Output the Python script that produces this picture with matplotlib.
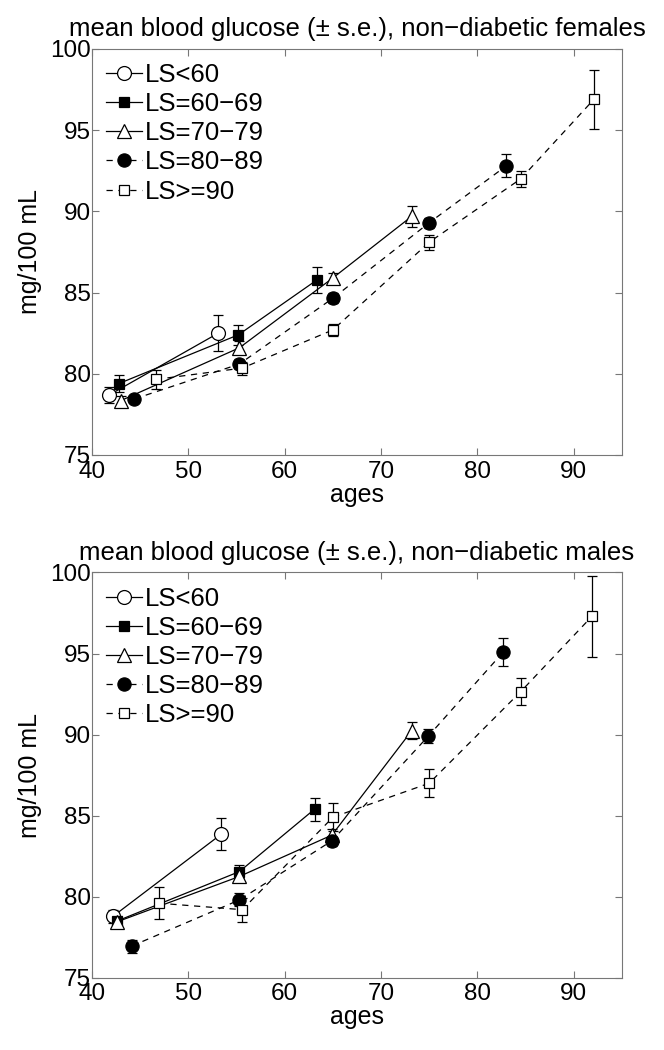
import matplotlib.pyplot as plt

plt.rcParams['font.family'] = ['Liberation Sans', 'DejaVu Sans']

labels = ['LS<60', 'LS=60\u221269', 'LS=70\u221279', 'LS=80\u221289', 'LS>=90']

# females
f_lt60_age = [41.8, 53.1]
f_lt60_mean = [78.7, 82.5]
f_lt60_se = [0.5, 1.1]
f_60_age = [42.8, 55.2, 63.4]
f_60_mean = [79.4, 82.4, 85.8]
f_60_se = [0.5, 0.6, 0.8]
f_70_age = [43.0, 55.3, 65.0, 73.2]
f_70_mean = [78.35, 81.6, 85.9, 89.7]
f_70_se = [0.3, 0.4, 0.3, 0.65]
f_80_age = [44.4, 55.3, 65.0, 75.0, 83.0]
f_80_mean = [78.45, 80.6, 84.65, 89.3, 92.8]
f_80_se = [0.25, 0.3, 0.3, 0.3, 0.7]
f_90_age = [46.6, 55.6, 65.0, 75.0, 84.5, 92.1]
f_90_mean = [79.65, 80.35, 82.7, 88.1, 92.0, 96.9]
f_90_se = [0.6, 0.4, 0.35, 0.45, 0.5, 1.8]

# males
m_lt60_age = [42.2, 53.4]
m_lt60_mean = [78.8, 83.85]
m_lt60_se = [0.4, 1.0]
m_60_age = [42.6, 55.3, 63.1]
m_60_mean = [78.5, 81.55, 85.4]
m_60_se = [0.3, 0.4, 0.7]
m_70_age = [42.6, 55.3, 64.9, 73.2]
m_70_mean = [78.45, 81.25, 83.8, 90.25]
m_70_se = [0.3, 0.35, 0.4, 0.5]
m_80_age = [44.1, 55.3, 64.9, 74.9, 82.7]
m_80_mean = [76.95, 79.8, 83.45, 89.9, 95.1]
m_80_se = [0.4, 0.4, 0.3, 0.45, 0.85]
m_90_age = [46.9, 55.6, 65.0, 75.0, 84.5, 91.9]
m_90_mean = [79.6, 79.2, 84.9, 87.0, 92.65, 97.3]
m_90_se = [1.0, 0.75, 0.85, 0.85, 0.85, 2.5]

styles = [
    dict(marker='o', mfc='white', ms=10, ls='-'),
    dict(marker='s', mfc='black', ms=7.5, ls='-'),
    dict(marker='^', mfc='white', ms=10, ls='-'),
    dict(marker='o', mfc='black', ms=9.5, ls=(0, (5, 4.5))),
    dict(marker='s', mfc='white', ms=7.5, ls=(0, (5, 4.5))),
]


def panel(ax, series, title):
    for (age, mean, se), lab, st in zip(series, labels, styles):
        ax.errorbar(age, mean, yerr=se, color='black', lw=0.9, elinewidth=0.9,
                    capsize=3.5, capthick=0.9, mec='black', mew=0.9,
                    label=lab, **st)
    ax.set_xlim(40, 95)
    ax.set_ylim(75, 100)
    ax.set_xticks(range(40, 100, 10))
    ax.set_yticks(range(75, 101, 5))
    ax.tick_params(direction='in', top=True, right=True, labelsize=17.5,
                   color='#777777', length=5)
    ax.tick_params(axis='x', pad=4)
    ax.tick_params(axis='y', pad=1)
    for s in ax.spines.values():
        s.set_color('#777777')
    ax.set_xlabel('ages', fontsize=18, labelpad=0)
    ax.set_ylabel('mg/100 mL', fontsize=18, labelpad=6)
    ax.set_title(title, fontsize=18.5, pad=9)
    handles, labs = ax.get_legend_handles_labels()
    ax.legend([h[0] for h in handles], labs, loc='upper left', frameon=False,
              fontsize=18.5, handlelength=1.4, handletextpad=0.1,
              labelspacing=0.2, borderaxespad=0.15)


fig = plt.figure(figsize=(6.64, 10.5), dpi=100)
ax1 = fig.add_axes([0.1386, 0.5667, 0.798, 0.3867])
ax2 = fig.add_axes([0.1386, 0.0688, 0.798, 0.386])

panel(ax1, [(f_lt60_age, f_lt60_mean, f_lt60_se), (f_60_age, f_60_mean, f_60_se),
            (f_70_age, f_70_mean, f_70_se), (f_80_age, f_80_mean, f_80_se),
            (f_90_age, f_90_mean, f_90_se)],
      'mean blood glucose (\u00b1 s.e.), non\u2212diabetic females')
panel(ax2, [(m_lt60_age, m_lt60_mean, m_lt60_se), (m_60_age, m_60_mean, m_60_se),
            (m_70_age, m_70_mean, m_70_se), (m_80_age, m_80_mean, m_80_se),
            (m_90_age, m_90_mean, m_90_se)],
      'mean blood glucose (\u00b1 s.e.), non\u2212diabetic males')

fig.savefig('out.png', dpi=100)
